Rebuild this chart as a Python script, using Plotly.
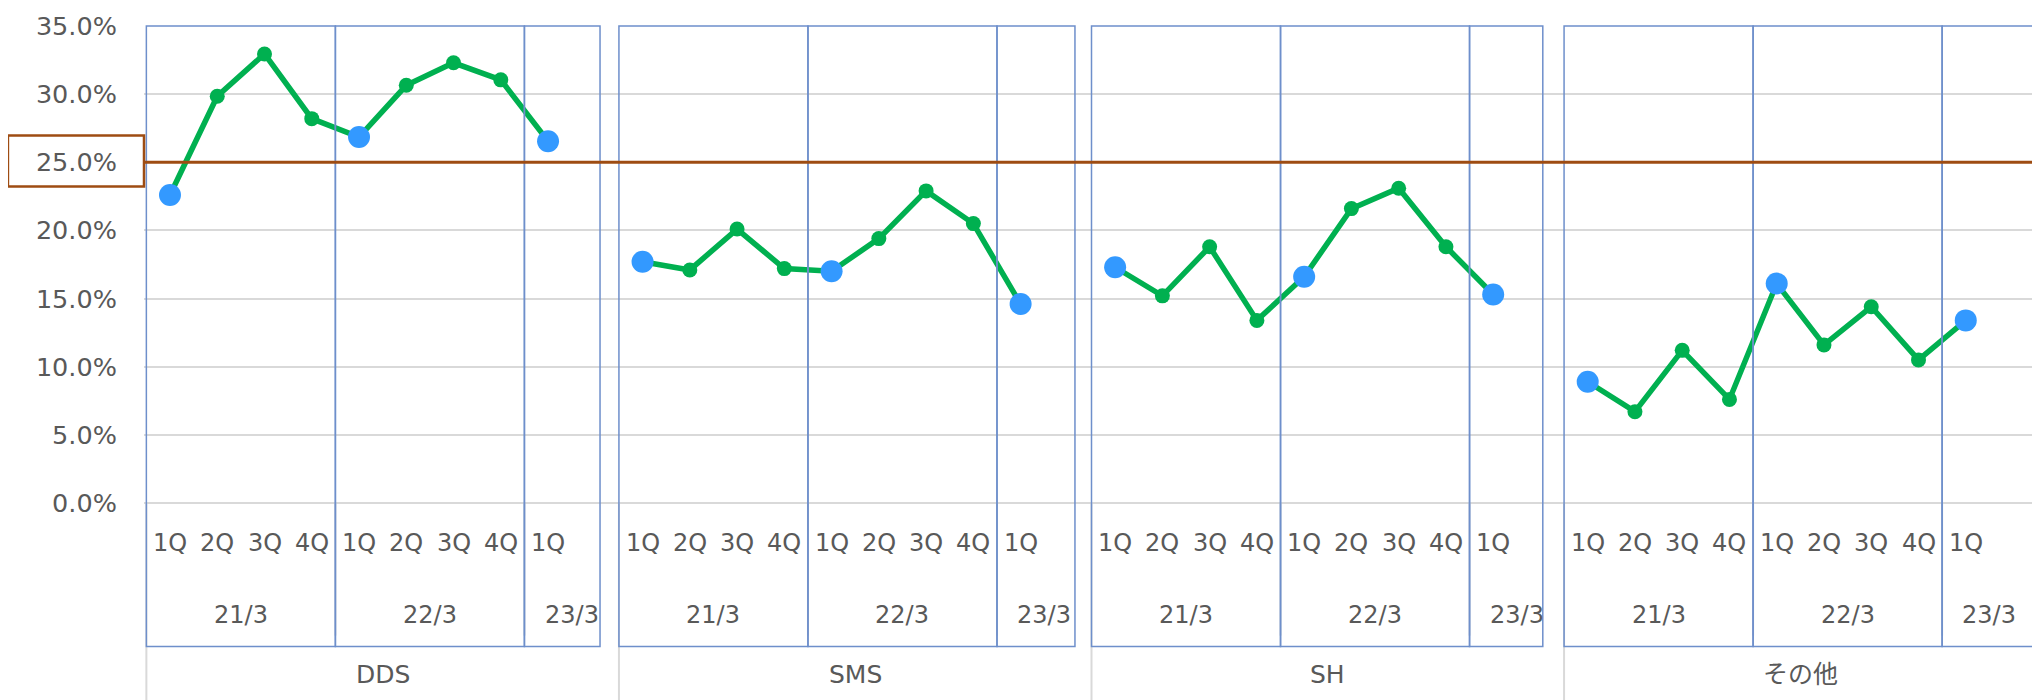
import plotly.graph_objects as go

# ---- data ----
segments = ["DDS", "SMS", "SH", "その他"]
quarters = ["1Q", "2Q", "3Q", "4Q", "1Q", "2Q", "3Q", "4Q", "1Q"]
fiscal_years = ["21/3", "22/3", "23/3"]
fy_sizes = [4, 4, 1]
dds = [22.6, 29.85, 32.95, 28.2, 26.85, 30.65, 32.3, 31.05, 26.55]
sms = [17.7, 17.1, 20.1, 17.2, 17.0, 19.4, 22.9, 20.5, 14.6]
sh = [17.3, 15.2, 18.8, 13.4, 16.6, 21.6, 23.1, 18.8, 15.3]
other = [8.9, 6.7, 11.2, 7.6, 16.1, 11.6, 14.4, 10.5, 13.4]
series = [dds, sms, sh, other]
target = 25.0

# ---- styles ----
FONT = "DejaVu Sans, Noto Sans CJK JP, sans-serif"
TXT = "#595959"
GREEN = "#00B050"
BLUE = "#3399FF"
BROWN = "#9E4C12"
BOXC = "#6E8FCB"
GRID = "#D9D9D9"
FS_Q = 24
FS_Y = 24
FS_SEG = 25
FS_TICK = 25.5
slots = len(quarters) + 1          # one empty slot after each segment
box_right = [9.6, 9.65, 9.55, 10.0]  # right edge of 23/3 frame per panel (in slots)

fig = go.Figure()
shapes = []
annotations = []

for p, (seg, vals) in enumerate(zip(segments, series)):
    base = p * slots
    xs = [base + i for i in range(len(vals))]
    fig.add_trace(go.Scatter(x=xs, y=vals, mode="lines+markers",
                             line=dict(color=GREEN, width=5.5),
                             marker=dict(color=GREEN, size=15),
                             showlegend=False, cliponaxis=False))
    q1 = [i for i, q in enumerate(quarters) if q == "1Q"]
    fig.add_trace(go.Scatter(x=[xs[i] for i in q1], y=[vals[i] for i in q1], mode="markers",
                             marker=dict(color=BLUE, size=22),
                             showlegend=False, cliponaxis=False))
    # quarter labels
    for i, q in enumerate(quarters):
        annotations.append(dict(x=base + i, y=-0.0832, xref="x", yref="paper", text=q,
                                xanchor="center", yanchor="middle", showarrow=False,
                                font=dict(size=FS_Q, color=TXT, family=FONT)))
    # fiscal year labels + frames
    start = 0
    for k, (fy, n) in enumerate(zip(fiscal_years, fy_sizes)):
        last = k == len(fiscal_years) - 1
        span = slots - start if last else n
        annotations.append(dict(x=base + start + (span - 1) / 2, y=-0.2354, xref="x", yref="paper",
                                text=fy, xanchor="center", yanchor="middle", showarrow=False,
                                font=dict(size=FS_Y, color=TXT, family=FONT)))
        x0 = base - 0.5 + start
        x1 = base - 0.5 + (box_right[p] if last else start + n)
        if not last:
            shapes.append(dict(type="line", xref="x", yref="paper", x0=x1, x1=x1, y0=0, y1=-0.278,
                               line=dict(color=GRID, width=2), layer="below"))
        shapes.append(dict(type="rect", xref="x", yref="paper", x0=x0, x1=x1, y0=-0.301, y1=1.0,
                           line=dict(color=BOXC, width=1.5), layer="above"))
        start += n
    # segment label
    annotations.append(dict(x=base + (slots - 1) / 2, y=-0.36, xref="x", yref="paper", text=seg,
                            xanchor="center", yanchor="middle", showarrow=False,
                            font=dict(size=FS_SEG, color=TXT, family=FONT)))
    shapes.append(dict(type="line", xref="x", yref="paper", x0=base - 0.5, x1=base - 0.5,
                       y0=0, y1=-0.42, line=dict(color=GRID, width=2), layer="below"))

# 25% target line and label frame
shapes.append(dict(type="line", xref="paper", yref="y", x0=0, x1=1.01, y0=target, y1=target,
                   line=dict(color=BROWN, width=3), layer="above"))
shapes.append(dict(type="rect", xref="paper", yref="y", x0=-0.0718, x1=0.0, y0=target - 1.78,
                   y1=target + 1.97, line=dict(color=BROWN, width=2.5), layer="above"))

# the page body adds an 8px offset; the figure is sized to compensate
fig.update_layout(
    width=2032, height=692,
    margin=dict(l=136, r=1, t=18, b=197),
    paper_bgcolor="white", plot_bgcolor="white",
    font=dict(family=FONT, size=FS_Q, color=TXT),
    shapes=shapes, annotations=annotations,
    xaxis=dict(range=[-0.55, slots * len(segments) - 0.45], showticklabels=False,
               showgrid=False, zeroline=False, showline=False, ticks="", automargin=False),
    yaxis=dict(range=[0, 35], dtick=5, tick0=0, tickformat=".1f", ticksuffix="%",
               showgrid=True, gridcolor=GRID, gridwidth=2,
               zeroline=True, zerolinecolor=GRID, zerolinewidth=2, automargin=False,
               showline=False, ticks="outside", ticklen=21, tickcolor="rgba(0,0,0,0)",
               tickfont=dict(size=FS_TICK, color=TXT, family=FONT)),
)

fig.write_html("out.html")
